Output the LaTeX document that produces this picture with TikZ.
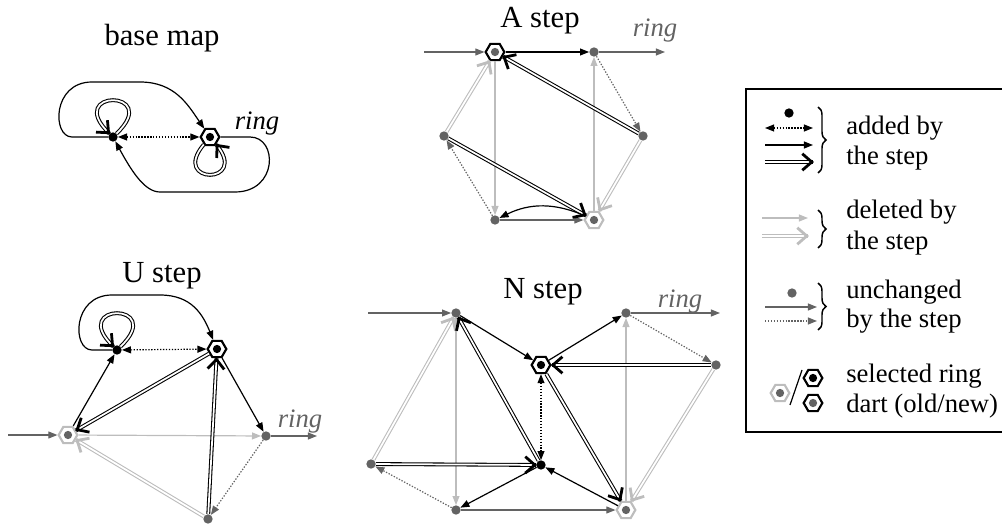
\documentclass[tikz,border=0pt]{standalone}
\usepackage{fontspec}
\setmainfont{Liberation Serif}
\usetikzlibrary{arrows.meta,shapes.geometric,decorations.pathreplacing,decorations.markings,calc}
\definecolor{dg}{HTML}{636363}
\definecolor{lg}{HTML}{BDBDBD}
\begin{document}
\begin{tikzpicture}[x=0.75pt,y=-0.75pt,
  vdot/.style={circle,fill=#1,inner sep=0pt,minimum size=7pt},
  vdot/.default=dg,
  hexnew/.style={regular polygon,regular polygon sides=6,draw=black,line width=1.6pt,fill=white,inner sep=0pt,minimum size=14pt,
    path picture={\fill[#1] (path picture bounding box.center) circle (3.1pt);}},
  hexnew/.default=black,
  hexold/.style={regular polygon,regular polygon sides=6,draw=lg,line width=1.6pt,fill=white,inner sep=0pt,minimum size=14pt,
    path picture={\fill[dg] (path picture bounding box.center) circle (3.1pt);}},
  arr/.style={color=#1,line width=0.9pt,-{Triangle[length=6.8pt,width=5.2pt]}},
  arr/.default=black,
  dotarr/.style={arr=#1,dash pattern=on 1pt off 1.2pt},
  dotarr/.default=dg,
  dotbi/.style={color=#1,line width=0.9pt,dash pattern=on 1pt off 1.2pt,{Triangle[length=6.8pt,width=5.2pt]}-{Triangle[length=6.8pt,width=5.2pt]}},
  dotbi/.default=black,
  dbl/.style={color=#1,line width=0.8pt,double=white,double distance=1.3pt,
    postaction={decorate,decoration={markings,mark=at position 0.999 with
      {\draw[#1,line width=2.1pt,line join=miter,line cap=butt] (-8pt,-6.2pt) -- (-0.9pt,0pt) -- (-8pt,6.2pt);}}}},
  dbl/.default=black,
  ttl/.style={font=\fontsize{23}{27}\selectfont,anchor=base,inner sep=0pt},
  rlab/.style={font=\fontsize{20}{24}\selectfont\itshape,anchor=base,inner sep=0pt,text=#1},
  rlab/.default=dg,
  lab/.style={font=\fontsize{20}{24}\selectfont,anchor=base west,inner sep=0pt},
  brc/.style={decorate,decoration={brace,amplitude=6pt},line width=1.1pt}
]
\useasboundingbox (0,0) rectangle (1002,527);

% ---------------- base map ----------------
\node[ttl] (t0) at (162,46) {base map};
\node[vdot=black] (L) at (113,137) {};
\node[hexnew=black] (R) at (210,137) {};
\node[rlab=black] (r0) at (257,130) {ring};
\draw[dotbi] (L) -- (R);
\draw[dbl] (L) .. controls (163,89) and (63,89) .. (L);
\draw[dbl] (R) .. controls (170,185) and (250,185) .. (R);
\draw[arr] (L) -- (72,137) .. controls (52,137) and (52,82) .. (92,82) -- (140,82) .. controls (175,82) and (188,105) .. (R);
\draw[arr] (R) -- (250,137) .. controls (278,137) and (278,192) .. (235,192) -- (160,192) .. controls (145,192) and (132,172) .. (L);

% ---------------- A step ----------------
\node[ttl] (t1) at (540,28) {A step};
\node[hexnew=dg] (H1) at (495,52) {};
\node[vdot] (AB) at (594,52) {};
\node[vdot] (AC) at (643,136) {};
\node[vdot] (AD) at (444,136) {};
\node[vdot] (AE) at (495,220) {};
\node[hexold] (AF) at (594,220) {};
\coordinate (Ain) at (424,52);
\coordinate (Aout) at (665,52);
\node[rlab] (r1) at (655,37) {ring};
\draw[dbl=lg] (AD) -- (H1);
\draw[dbl=lg] (AC) -- (AF);
\draw[arr=lg] (H1) -- (AE);
\draw[arr=lg] (AF) -- (AB);
\draw[arr=dg] (Ain) -- (H1);
\draw[arr=dg] (AB) -- (Aout);
\draw[arr=dg] (AE) -- (AF);
\draw[dotarr] (AB) -- (AC);
\draw[dotarr] (AE) -- (AD);
\draw[arr] (H1) -- (AB);
\draw[dbl] (AC) -- (H1);
\draw[dbl] (AD) -- (AF);
\draw[arr] (AF) to[bend right=25] (AE);

% ---------------- U step ----------------
\node[ttl] (t2) at (162,282) {U step};
\node[vdot=black] (P) at (117,350) {};
\node[hexnew=black] (Q) at (217,349) {};
\node[hexold] (O) at (68,435) {};
\node[vdot] (UR) at (266,436) {};
\node[vdot] (US) at (208,519) {};
\coordinate (Uin) at (8,435);
\coordinate (Uout) at (317,436);
\node[rlab] (r2) at (300,427) {ring};
\draw[arr=lg] (O) -- (UR);
\draw[dbl=lg] (US) -- (O);
\draw[arr=dg] (Uin) -- (O);
\draw[arr=dg] (UR) -- (Uout);
\draw[dotarr] (UR) -- (US);
\draw[dbl] (P) .. controls (167,302) and (67,302) .. (P);
\draw[arr] (P) -- (92,350) .. controls (72,350) and (72,295) .. (112,295) -- (160,295) .. controls (192,295) and (203,315) .. (Q);
\draw[dotbi] (P) -- (Q);
\draw[arr] (O) -- (P);
\draw[dbl] (Q) -- (O);
\draw[arr] (Q) -- (UR);
\draw[dbl] (US) -- (Q);

% ---------------- N step ----------------
\node[ttl] (t3) at (543,298) {N step};
\node[vdot] (Na) at (456,313) {};
\node[vdot] (Nb) at (626,313) {};
\node[hexnew=black] (Nc) at (541,365) {};
\node[vdot] (Nd) at (716,365) {};
\node[vdot] (Ne) at (371,464) {};
\node[vdot=black] (Nf) at (541,465) {};
\node[vdot] (Ng) at (456,510) {};
\node[hexold] (Nh) at (626,510) {};
\coordinate (Nin) at (368,313);
\coordinate (Nout) at (720,313);
\node[rlab] (r3) at (680,307) {ring};
\draw[dbl=lg] (Ne) -- (Na);
\draw[arr=lg] (Na) -- (Ng);
\draw[arr=lg] (Nh) -- (Nb);
\draw[dbl=lg] (Nd) -- (Nh);
\draw[arr=dg] (Nin) -- (Na);
\draw[arr=dg] (Nb) -- (Nout);
\draw[arr=dg] (Ng) -- (Nh);
\draw[dotarr] (Nb) -- (Nd);
\draw[dotarr] (Ng) -- (Ne);
\draw[arr] (Na) -- (Nc);
\draw[arr] (Nc) -- (Nb);
\draw[dbl] (Nd) -- (Nc);
\draw[dotbi] (Nc) -- (Nf);
\draw[dbl] (Nf) -- (Na);
\draw[dbl] (Ne) -- (Nf);
\draw[dbl] (Nc) -- (Nh);
\draw[arr] (Nf) -- (Ng);
\draw[arr] (Nh) -- (Nf);

% ---------------- legend ----------------
\draw[line width=1.2pt] (746,89) rectangle (1012,432);
\node[vdot=black] (k1) at (789,113) {};
\coordinate (k2a) at (765,128); \coordinate (k2b) at (813,128);
\coordinate (k3a) at (765,145); \coordinate (k3b) at (813,145);
\coordinate (k4a) at (765,162); \coordinate (k4b) at (813,162);
\draw[dotbi] (k2a) -- (k2b);
\draw[arr] (k3a) -- (k3b);
\draw[dbl] (k4a) -- (k4b);
\draw[brc] (818,107) -- (818,173);
\node[lab] (l1) at (846,135) {added by};
\node[lab] (l2) at (846,165) {the step};

\coordinate (k5a) at (762,218); \coordinate (k5b) at (808,218);
\coordinate (k6a) at (762,236); \coordinate (k6b) at (808,236);
\draw[arr=lg] (k5a) -- (k5b);
\draw[dbl=lg] (k6a) -- (k6b);
\draw[brc] (818,210) -- (818,248);
\node[lab] (l3) at (846,219) {deleted by};
\node[lab] (l4) at (846,249) {the step};

\node[vdot] (k7) at (792,293) {};
\coordinate (k8a) at (765,307); \coordinate (k8b) at (817,307);
\coordinate (k9a) at (765,321); \coordinate (k9b) at (817,321);
\draw[arr=dg] (k8a) -- (k8b);
\draw[dotarr] (k9a) -- (k9b);
\draw[brc] (818,283) -- (818,330);
\node[lab] (l5) at (846,298) {unchanged};
\node[lab] (l6) at (846,327) {by the step};

\node[hexold] (k10) at (780,393) {};
\coordinate (s1) at (790,405); \coordinate (s2) at (802,370);
\draw[line width=0.9pt] (s1) -- (s2);
\node[hexnew=black] (k11) at (813,378) {};
\node[hexnew=dg] (k12) at (813,403) {};
\node[lab] (l7) at (846,382) {selected ring};
\node[lab] (l8) at (846,412) {dart (old/new)};
\end{tikzpicture}
\end{document}
